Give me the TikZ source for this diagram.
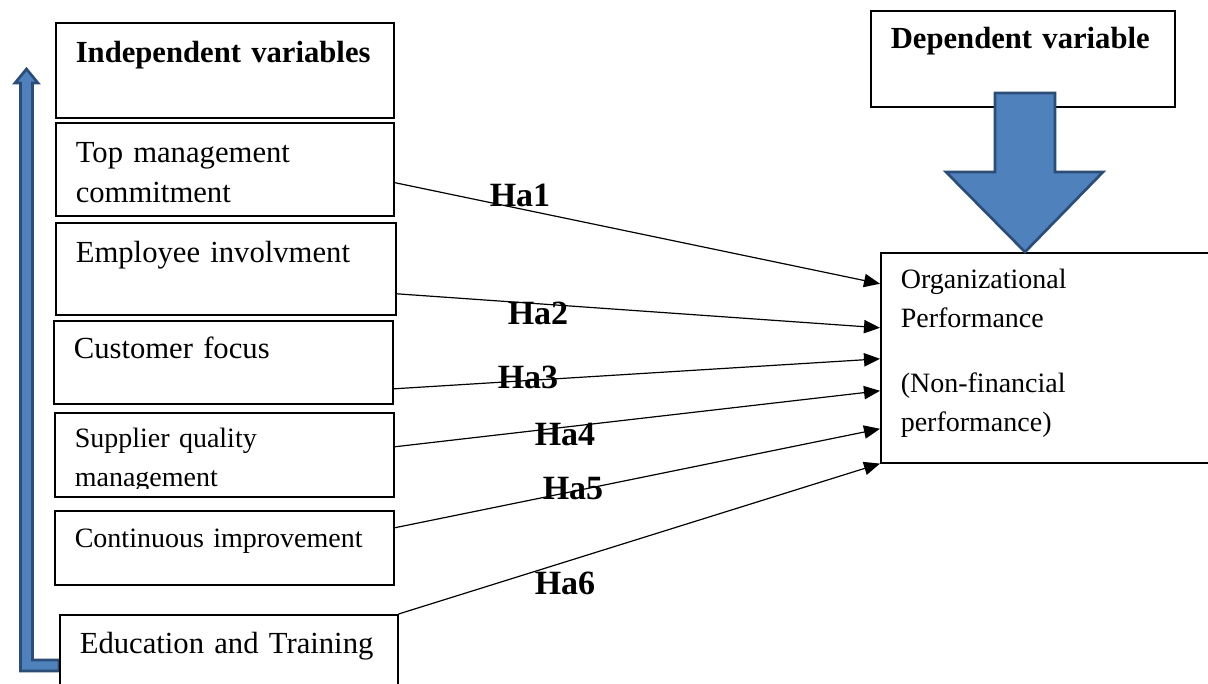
\documentclass[tikz,border=0pt]{standalone}
\usepackage{fontspec}
\setmainfont{Liberation Serif}
\usetikzlibrary{arrows.meta}

\definecolor{arrowblue}{RGB}{79,129,189}
\definecolor{arrowedge}{RGB}{44,77,117}

\tikzset{
  var/.style={draw, line width=1.2pt, fill=white, anchor=north west, align=left,
    inner xsep=15pt, inner ysep=0pt, font=\fontsize{23}{30}\selectfont},
  small/.style={font=\fontsize{21}{29.25}\selectfont},
  hyp/.style={inner sep=0pt, font=\bfseries\fontsize{25.5}{30}\selectfont},
  link/.style={line width=0.9pt, -{Triangle[length=12pt,width=10pt]}},
  bigarrow/.style={fill=arrowblue, draw=arrowedge, line width=2pt, line join=miter}
}

\begin{document}
\begin{tikzpicture}[x=0.75pt,y=-0.75pt]
  \useasboundingbox (0,0) rectangle (1208,684);
  \clip (0,0) rectangle (1208,684);

  % arrow along the independent variables
  \draw[bigarrow] (59,671) -- (20.5,671) -- (20.5,83) -- (15,83) -- (26.5,69)
    -- (38,83) -- (32.5,83) -- (32.5,660) -- (59,660) -- cycle;

  \node[var, text width=223.5pt, text height=30pt, text depth=41.25pt] (indep) at (55,22) {\textbf{Independent variables}};
  \node[var, text width=223.5pt, text height=30pt, text depth=39.75pt] (top) at (55,122) {Top management\\commitment};
  \node[var, text width=225pt, text height=30pt, text depth=39pt] (emp) at (55,222) {Employee involvment};
  \node[var, text width=224.25pt, text height=28.5pt, text depth=33.75pt] (cust) at (53,320) {Customer focus};
  \node[var, small, text width=224.25pt, text height=26.25pt, text depth=36.75pt] (supp) at (54,412) {Supplier quality\\management};
  \fill[white] (56,489) rectangle (391,494.5);
  \node[var, small, text width=224.25pt, text height=27.75pt, text depth=27.75pt] (cont) at (54,510) {Continuous improvement};
  \node[var, text width=223.5pt, text height=29.25pt, text depth=45.75pt] (educ) at (59,614) {Education and Training};

  \node[var, text width=198pt, text height=28.5pt, text depth=43.5pt] (dep) at (870,10) {\textbf{Dependent variable}};
  \node[var, small, text width=232.5pt, text height=27pt, text depth=130.5pt] (org) at (880,252)
    {Organizational\\Performance\\[19pt](Non-financial\\performance)};

  % big arrow into the dependent variable
  \draw[bigarrow] (995,93) -- (1055,93) -- (1055,172) -- (1103,172) -- (1025,252)
    -- (946,172) -- (995,172) -- cycle;

  % hypotheses
  \foreach \n/\x/\y in {1/520/195, 2/538/313, 3/528/377, 4/565/434, 5/573/489, 6/565/583}
    { \node[hyp] (h\n) at (\x,\y) {Ha\n}; }
  \foreach \src/\sa/\ea in {top/-10/55.5, emp/-18.75/22.5, cust/-19.9/-0.75,
                            supp/6/-24.75, cont/15/-53.25}
    { \draw[link] ([yshift=\sa pt]\src.east) -- ([yshift=\ea pt]org.west); }
  \draw[link] (educ.north east) -- (org.south west);
\end{tikzpicture}
\end{document}
